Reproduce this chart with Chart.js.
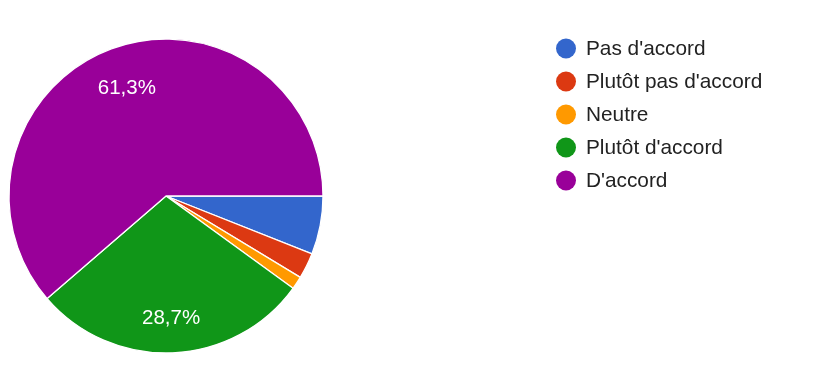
<!DOCTYPE html>
<html>
<head>
<meta charset="utf-8">
<script src="https://cdn.jsdelivr.net/npm/chart.js@4/dist/chart.umd.min.js"></script>
<style>
    html, body { margin: 0; padding: 0; background: #fff; }
    #wrap { width: 824px; height: 365px; position: relative; }
</style>
</head>
<body>
<div id="wrap"><canvas id="chart"></canvas></div>
<script>
const labels = ["Pas d'accord", "Plutôt pas d'accord", "Neutre", "Plutôt d'accord", "D'accord"];
const responses = [9, 4, 2, 43, 92];
const colors = ['#3366cc', '#dc3912', '#ff9900', '#109618', '#990099'];

const FONT = 'Arial, "Liberation Sans", sans-serif';

// legend drawn by hand, google forms style
const sideLegend = {
    id: 'sideLegend',
    afterDraw(chart, args, opts) {
        const ctx = chart.ctx;
        const names = chart.data.labels;
        const fills = chart.data.datasets[0].backgroundColor;
        ctx.save();
        ctx.font = opts.size + 'px ' + FONT;
        ctx.textBaseline = 'middle';
        names.forEach((name, i) => {
            const y = opts.top + i * opts.step;
            ctx.beginPath();
            ctx.arc(opts.left, y, opts.dot, 0, Math.PI * 2);
            ctx.fillStyle = fills[i];
            ctx.fill();
            ctx.fillStyle = '#222222';
            ctx.fillText(name, opts.left + opts.gap, y + 1);
        });
        ctx.restore();
    }
};

const sliceText = {
    id: 'sliceText',
    afterDatasetsDraw(chart, args, opts) {
        const ctx = chart.ctx;
        const meta = chart.getDatasetMeta(0);
        const values = chart.data.datasets[0].data;
        const total = values.reduce((a, b) => a + b, 0);
        ctx.save();
        ctx.font = opts.size + 'px ' + FONT;
        ctx.fillStyle = '#ffffff';
        ctx.textAlign = 'center';
        ctx.textBaseline = 'middle';
        meta.data.forEach((arc, i) => {
            const share = values[i] / total * 100;
            if (share < opts.minShare) return;
            const place = opts.place[i] || {};
            const angle = place.angle !== undefined ? place.angle * Math.PI / 180 : (arc.startAngle + arc.endAngle) / 2;
            const dist = (place.dist || opts.dist) * arc.outerRadius;
            const txt = share.toFixed(1).replace('.', ',') + '%';
            ctx.fillText(txt, arc.x + Math.cos(angle) * dist, arc.y + Math.sin(angle) * dist);
        });
        ctx.restore();
    }
};

new Chart(document.getElementById('chart'), {
    type: 'pie',
    data: {
        labels: labels,
        datasets: [{
            data: responses,
            backgroundColor: colors,
            borderColor: '#ffffff',
            borderWidth: 1.3
        }]
    },
    options: {
        responsive: true,
        maintainAspectRatio: false,
        animation: false,
        rotation: 90,
        radius: 157,
        layout: { padding: { left: 9, right: 501, top: 38, bottom: 11 } },
        plugins: {
            legend: { display: false },
            tooltip: { enabled: false },
            sideLegend: { left: 566, top: 48.5, step: 33, dot: 10, gap: 20, size: 20.8 },
            sliceText: { size: 20.5, minShare: 20, dist: 0.78, place: { 4: { angle: 250, dist: 0.73 } } }
        }
    },
    plugins: [sideLegend, sliceText]
});
</script>
</body>
</html>
